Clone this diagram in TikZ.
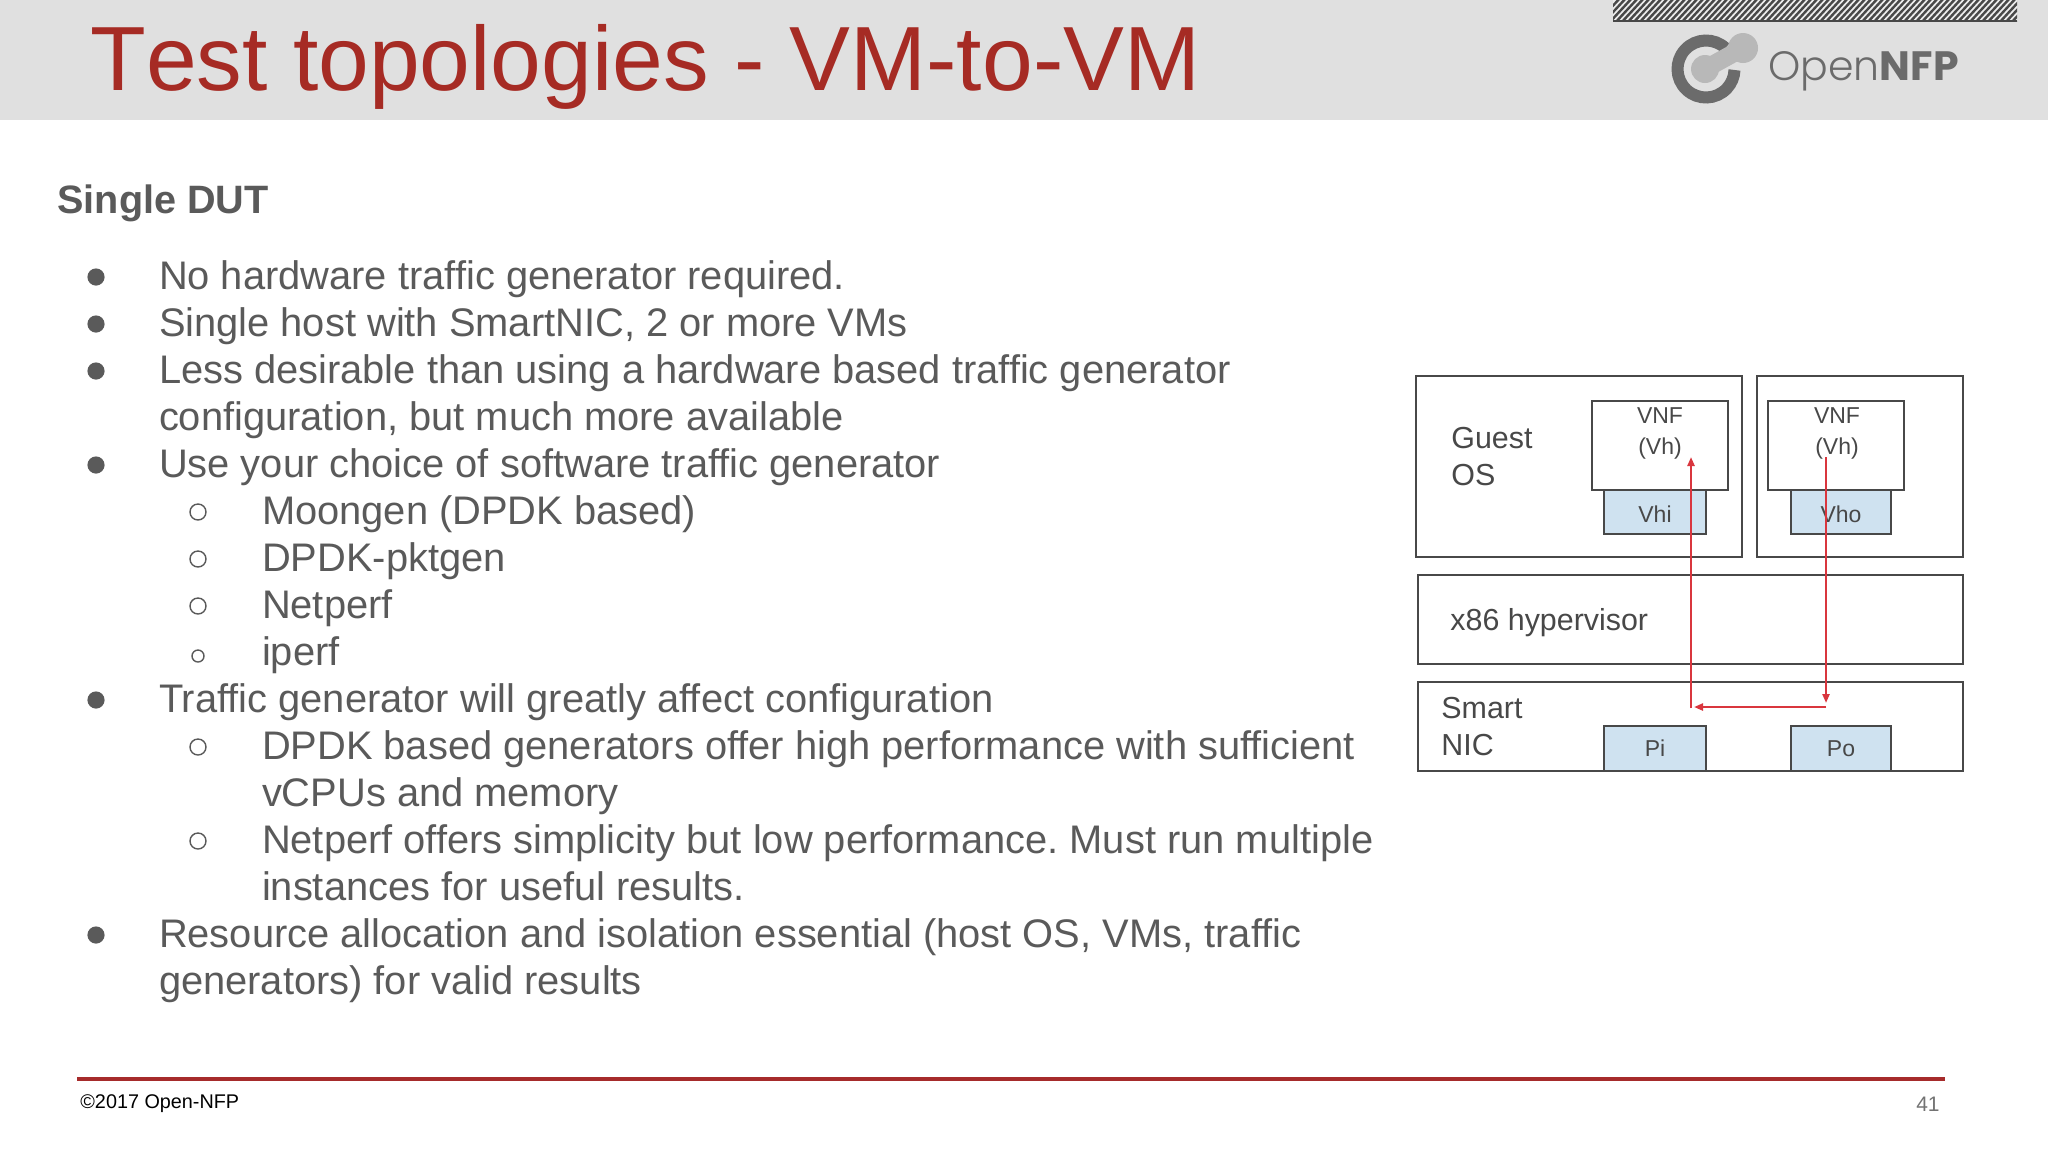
\documentclass[tikz,border=0pt]{standalone}
\usetikzlibrary{arrows.meta}
\usepackage{fontspec}
\setmainfont{Liberation Sans}
\newfontfamily\logofont{Poppins Light}
\newfontfamily\logobold{Poppins}[BoldFont={Poppins Bold}]
\definecolor{hdr}{HTML}{E0E0E0}
\definecolor{ttl}{HTML}{A62B24}
\definecolor{bodyc}{HTML}{5A5A5A}
\definecolor{diag}{HTML}{484848}
\definecolor{fillb}{HTML}{CFE2F0}
\definecolor{arr}{HTML}{D9363E}
\definecolor{rulec}{HTML}{A62B2B}
\newcommand{\fs}[1]{\fontsize{#1}{#1}\selectfont}
\frenchspacing
\tikzset{
  x=0.5pt,y=-0.5pt,
  body/.style={anchor=base west,inner sep=0pt,outer sep=0pt,text=bodyc,font=\fs{19.93}},
  bigdot/.style={circle,fill=bodyc,inner sep=0pt,minimum size=8.6pt},
  ringdot/.style={circle,draw=bodyc,line width=0.7pt,inner sep=0pt,minimum size=8pt},
  dbox/.style={draw=diag,line width=1.2pt,fill=white},
  pbox/.style={draw=diag,line width=1.2pt,fill=fillb},
  dtxt/.style={anchor=base west,inner sep=0pt,text=diag,font=\fs{15.2}},
  dsmall/.style={anchor=base,inner sep=0pt,text=diag,font=\fs{11.5}},
  flow/.style={draw=arr,line width=1.2pt},
  flowtip/.style={flow,-{Triangle[length=4.5pt,width=3.5pt]}},
}
\begin{document}
\begin{tikzpicture}
\useasboundingbox (0,0) rectangle (2048,1152);
\fill[white] (0,0) rectangle (2048,1152);
\fill[hdr] (0,0) rectangle (2048,120);
\node[anchor=base west,inner sep=0pt,text=ttl,font=\fs{45.6}] (title) at (90,90) {\mbox{T}est topologies - VM-to-VM};
% hatch
\begin{scope}
\clip (1613,0) rectangle (2017,21);
\fill[hdr!60!white] (1613,0) rectangle (2017,21);
\foreach \i in {0,6,...,420}{
  \draw[diag,line width=1.2pt] (1596+\i,24) -- (1621+\i,-3);
}
\end{scope}
\draw[diag,line width=1pt] (1613,21) -- (2017,21);
% logo
\draw[line width=6pt,color=black!58] ([shift={(-47:28.5)}]1706,69) arc[start angle=-47,end angle=-358,radius=28.5];
\fill[black!28] (1705,69) circle[radius=14];
\fill[black!28] (1743,48) circle[radius=15];
\draw[black!28,line width=9pt] (1705,69) -- (1743,48);
\node[anchor=base west,inner sep=0pt,text=black!58,font=\fs{20.5}] (logotxt) at (1768,80) {{\logofont Open}{\logobold\bfseries NFP}};
% heading
\node[anchor=base west,inner sep=0pt,text=bodyc,font=\bfseries\fs{19.8}] (head) at (57,213) {Single DUT};
% bullets
\foreach \y in {277,324,371,465,700,935}{\node[bigdot] at (96,\y) {};}
\foreach \y in {512,559,606,747,841}{\node[ringdot] at (198,\y) {};}
\node[ringdot,minimum size=6pt] at (198,656) {};
\node[body] (l1) at (159,289.5) {No hardware traffic generator required.};
\node[body] (l2) at (159,336.5) {Single host with SmartNIC, 2 or more VMs};
\node[body] (l3) at (159,383.5) {Less desirable than using a hardware based traffic generator};
\node[body] (l4) at (159,430.5) {configuration, but much more available};
\node[body] (l5) at (159,477.5) {Use your choice of software traffic generator};
\node[body] (l6) at (262,524.5) {Moongen (DPDK based)};
\node[body] (l7) at (262,571.5) {DPDK-pktgen};
\node[body] (l8) at (262,618.5) {Netperf};
\node[body] (l9) at (262,665.5) {iperf};
\node[body] (l10) at (159,712.5) {Traffic generator will greatly affect configuration};
\node[body] (l11) at (262,759.5) {DPDK based generators offer high performance with sufficient};
\node[body] (l12) at (262,806.5) {vCPUs and memory};
\node[body] (l13) at (262,853.5) {Netperf offers simplicity but low performance. Must run multiple};
\node[body] (l14) at (262,900.5) {instances for useful results.};
\node[body] (l15) at (159,947.5) {Resource allocation and isolation essential (host OS, VMs, traffic};
\node[body] (l16) at (159,994.5) {generators) for valid results};
% diagram boxes
\draw[dbox] (1416,376) rectangle (1742,557);
\draw[dbox] (1757,376) rectangle (1963,557);
\draw[dbox] (1418,575) rectangle (1963,664);
\draw[dbox] (1418,682) rectangle (1963,771);
\draw[pbox] (1604,490) rectangle (1706,534);
\draw[pbox] (1791,490) rectangle (1891,534);
\draw[dbox] (1592,401) rectangle (1728,490);
\draw[dbox] (1768,401) rectangle (1904,490);
\draw[pbox] (1604,726) rectangle (1706,771);
\draw[pbox] (1791,726) rectangle (1891,771);
% diagram labels
\node[dtxt] (guest) at (1451,448) {Guest};
\node[dtxt] (os) at (1451,485) {OS};
\node[dsmall] (vnfa) at (1660,423) {VNF};
\node[dsmall] (vha) at (1660,454) {(Vh)};
\node[dsmall] (vnfb) at (1837,423) {VNF};
\node[dsmall] (vhb) at (1837,454) {(Vh)};
\node[dsmall] (vhi) at (1655,522) {Vhi};
\node[dsmall] (vho) at (1841,522) {Vho};
\node[dtxt] (hv) at (1450,630) {x86 hypervisor};
\node[dtxt] (smart) at (1441,718) {Smart};
\node[dtxt] (nic) at (1441,755) {NIC};
\node[dsmall] (pi) at (1655,756) {Pi};
\node[dsmall] (po) at (1841,756) {Po};
% flow
\coordinate (inA) at (1691,457);
\coordinate (inB) at (1691,708);
\coordinate (outA) at (1826,457);
\coordinate (outB) at (1826,703);
\coordinate (outC) at (1826,707);
\coordinate (inC) at (1694,707);
\draw[flowtip] (inB) -- (inA);
\draw[flowtip] (outA) -- (outB);
\draw[flowtip] (outC) -- (inC);
% footer
\draw[rulec,line width=2pt] (77,1079) -- (1945,1079);
\node[anchor=base west,inner sep=0pt,text=black,font=\fs{9.9}] (copy) at (80,1108.5) {©2017 Open-NFP};
\node[anchor=base east,inner sep=0pt,text=black!55,font=\fs{10.5}] (page) at (1940,1111) {41};
\end{tikzpicture}
\end{document}
